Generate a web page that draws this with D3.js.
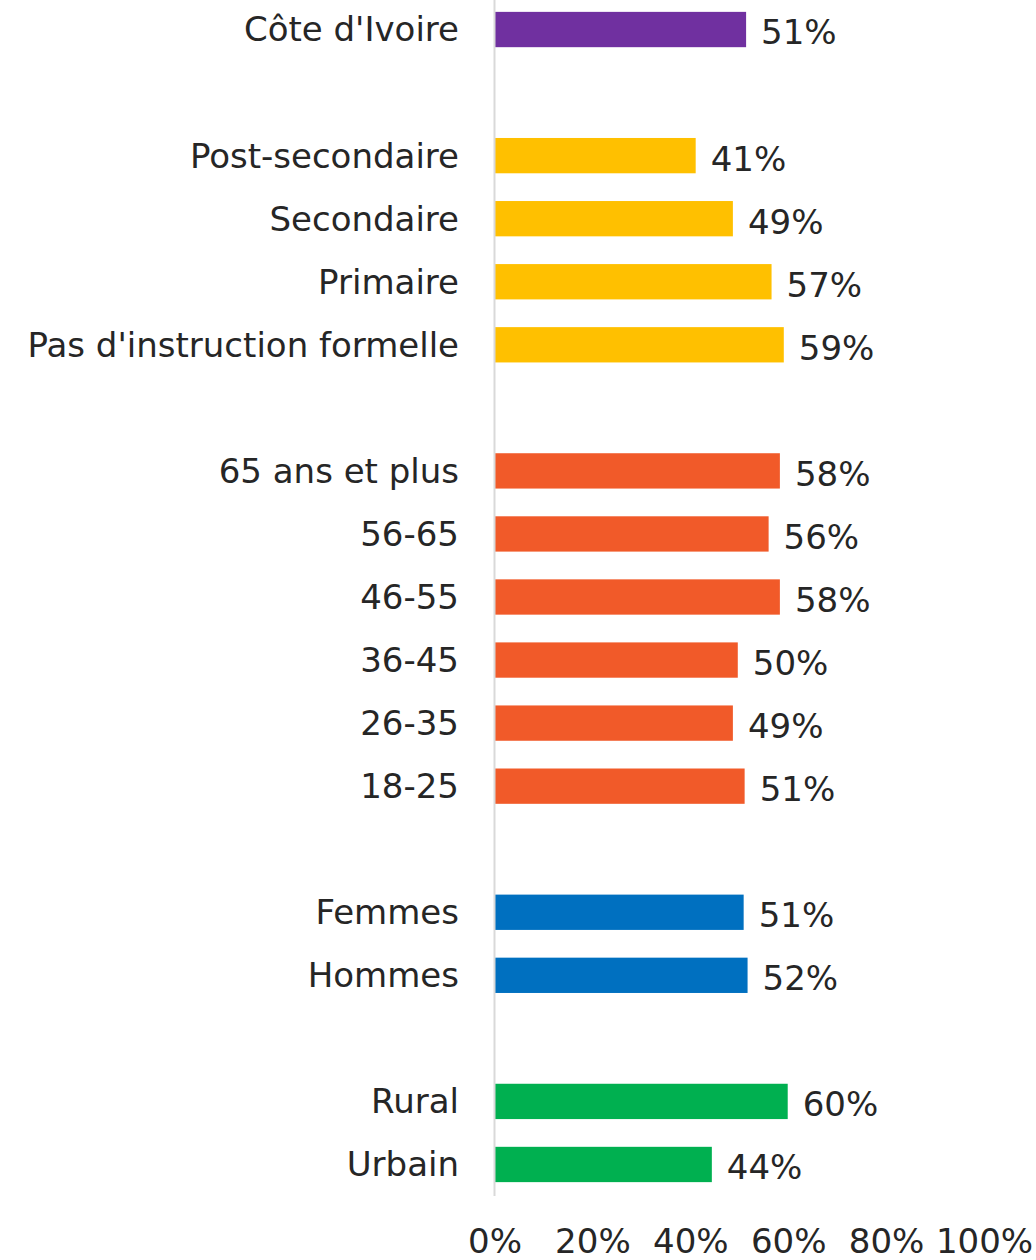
<!DOCTYPE html>
<html lang="fr">
<head>
<meta charset="utf-8">
<title>Côte d'Ivoire</title>
<script src="https://cdn.jsdelivr.net/npm/d3@7"></script>
<style>
  body { margin: 0; background: #ffffff; }
  text { font-family: "DejaVu Sans", sans-serif; fill: #262626; }
</style>
</head>
<body>
<div id="chart"></div>
<script>
// rows top to bottom, "" = blank spacer row between groups
const labels = ["Côte d'Ivoire", "",
  "Post-secondaire", "Secondaire", "Primaire", "Pas d'instruction formelle", "",
  "65 ans et plus", "56-65", "46-55", "36-45", "26-35", "18-25", "",
  "Femmes", "Hommes", "",
  "Rural", "Urbain"];
const values = [51.4, null,
  41.1, 48.7, 56.6, 59.1, null,
  58.3, 56.0, 58.3, 49.7, 48.7, 51.1, null,
  50.9, 51.7, null,
  59.9, 44.4];
const groups = ["pays", null,
  "edu", "edu", "edu", "edu", null,
  "age", "age", "age", "age", "age", "age", null,
  "sexe", "sexe", null,
  "milieu", "milieu"];
const groupColors = {pays: "#7030a0", edu: "#ffc000", age: "#f15a29", sexe: "#0070c0", milieu: "#00b050"};
const ticks = [0, 20, 40, 60, 80, 100];

const W = 1036, H = 1260;
const fontSize = 34;

const rows = labels.map((l, i) => ({key: "r" + i, label: l, value: values[i], group: groups[i]}));

const svg = d3.select("#chart").append("svg")
  .attr("width", W).attr("height", H);

const x = d3.scaleLinear().domain([0, 100]).range([494.5, 984]);
const y = d3.scaleBand().domain(rows.map(d => d.key))
  .range([-2, 1196]).paddingInner(0.44).paddingOuter(0.22);

// bars
svg.append("g").selectAll("rect")
  .data(rows.filter(d => d.value != null))
  .join("rect")
  .attr("x", x(0))
  .attr("y", d => y(d.key))
  .attr("width", d => x(d.value) - x(0))
  .attr("height", y.bandwidth())
  .attr("fill", d => groupColors[d.group]);

// vertical axis line
svg.append("line")
  .attr("x1", x(0)).attr("x2", x(0))
  .attr("y1", 0).attr("y2", 1196)
  .attr("stroke", "#d9d9d9").attr("stroke-width", 2);

// category labels
svg.append("g").selectAll("text")
  .data(rows.filter(d => d.label))
  .join("text")
  .attr("x", 459)
  .attr("y", d => y(d.key) + y.bandwidth() / 2)
  .attr("dy", "0.35em")
  .attr("text-anchor", "end")
  .style("font-size", fontSize + "px")
  .text(d => d.label);

// value labels
svg.append("g").selectAll("text")
  .data(rows.filter(d => d.value != null))
  .join("text")
  .attr("x", d => x(d.value) + 15)
  .attr("y", d => y(d.key) + y.bandwidth() / 2 + 3)
  .attr("dy", "0.35em")
  .style("font-size", fontSize + "px")
  .text(d => Math.round(d.value) + "%");

// x tick labels
const xAxis = d3.axisBottom(x).tickValues(ticks).tickFormat(d => d + "%").tickSize(0).tickPadding(0);
const ax = svg.append("g")
  .attr("transform", "translate(0,1229)")
  .call(xAxis);
ax.select(".domain").remove();
ax.selectAll("text")
  .style("font-size", fontSize + "px")
  .style("font-family", "'DejaVu Sans', sans-serif")
  .attr("fill", "#262626");
</script>
</body>
</html>
